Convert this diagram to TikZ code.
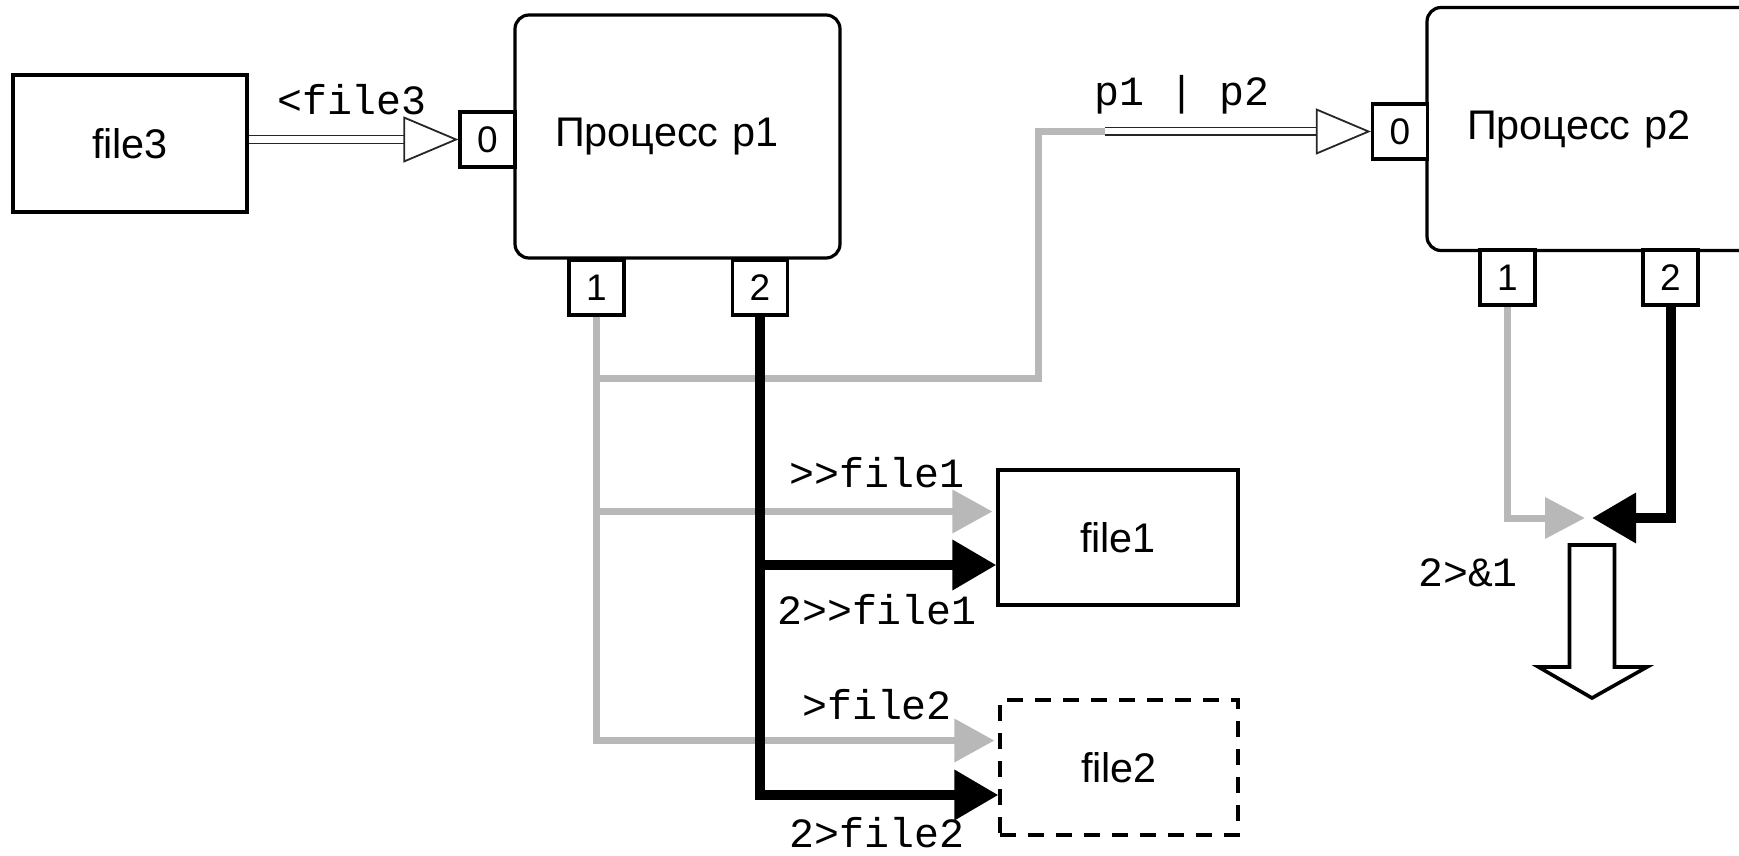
\documentclass[tikz,border=0pt]{standalone}
\usepackage{fontspec}
\setmainfont{Liberation Sans}
\setmonofont{Liberation Mono}
\usetikzlibrary{arrows.meta}

\begin{document}
\begin{tikzpicture}[x=0.5pt, y=-0.5pt,
	proc/.style={draw, line width=1.6pt, rounded corners=7pt, minimum width=162.5pt, minimum height=121.5pt, text width=122.5pt, inner xsep=20pt, align=left, font=\fontsize{20.7pt}{24pt}\selectfont},
	port/.style={draw, line width=1.6pt, fill=white, minimum size=27.5pt, inner sep=0pt, font=\fontsize{18.5pt}{21pt}\selectfont},
	filebox/.style={draw, line width=1.6pt, minimum width=120pt, minimum height=67.5pt, font=\fontsize{20.7pt}{24pt}\selectfont},
	redir/.style={inner sep=0pt, font=\ttfamily\fontsize{20.8pt}{24pt}\selectfont},
	pipe/.style={double, double distance=3pt, line width=0.9pt, draw=black!85, -{Triangle[open, length=27.5pt, width=23pt, line width=0.9pt]}},
	stdline/.style={draw=black!28, line width=3.5pt},
	stdarrow/.style={stdline, shorten >=2pt, -{Triangle[length=20pt, width=21pt]}},
	errarrow/.style={line width=5pt, -{Triangle[length=22pt, width=24pt]}},
	bigarrow/.style={draw, line width=1.8pt, fill=white, line join=miter}]

	\useasboundingbox (0,0) rectangle (1739,856);
	\clip (0,0) rectangle (1739,856);

	% processes and their descriptors
	\node (P1) at (677.5,136.5) [proc] {Процесс p1};
	\node (P2) at (1589.5,129) [proc] {Процесс p2};
	\node (In1) at (487.5,139.5) [port] {0};
	\node (Out1) at (596.5,287.5) [port] {1};
	\node (Err1) at (760,287.5) [port] {2};
	\node (In2) at (1400,131.5) [port] {0};
	\node (Out2) at (1507.5,277.5) [port] {1};
	\node (Err2) at (1670.5,277.5) [port] {2};

	% files
	\node (F3) at (130,143.5) [filebox, line width=2.2pt, minimum width=117pt, minimum height=68.5pt] {file3};
	\node (F1) at (1118,537.5) [filebox] {file1};
	\node (F2) at (1119,767.5) [filebox, dashed, dash pattern=on 8pt off 6pt, minimum width=119pt] {file2};

	\coordinate (Bend) at (1038,378);
	\coordinate (PipeA) at (In2.west -| 1105,0);
	\coordinate (Mrg) at (1592,518);

	% stdout of p1
	\draw[stdline] (Out1.south) |- (Bend) |- (PipeA);
	\draw[stdarrow] (Out1.south) |- ([yshift=13pt]F1.west);
	\draw[stdarrow] (Out1.south) |- ([yshift=13.5pt]F2.west);
	% stderr of p1
	\draw[errarrow] (Err1.south) |- ([yshift=-13.75pt]F1.west);
	\draw[errarrow] (Err1.south) |- ([yshift=-13.75pt]F2.west);

	\draw[pipe] (F3.east |- In1) -- (In1);
	\draw[pipe] (PipeA) -- (In2);

	% 2>&1
	\draw[stdline, shorten >=3.5pt, -{Triangle[length=20pt, width=20pt]}] (Out2.south) |- (Mrg);
	\draw[errarrow] (Err2.south) |- (Mrg);
	\draw[bigarrow] (1569.5,545) -- ++(0,122) -- ++(-31,0) -- (1592,698) -- ++(55,-31) -- ++(-32.5,0) -- ++(0,-122) -- cycle;

	\node (L3) at (352,100) [redir] {<file3};
	\node (Lpipe) at (1182,95) [redir] {p1 | p2};
	\node (Lapp1) at (877,473) [redir] {>{}>file1};
	\node (Lerr1) at (877,610) [redir] {2>{}>file1};
	\node (Lout2) at (877,705) [redir] {>file2};
	\node (Lerr2) at (877,833) [redir] {2>file2};
	\node (Lmrg) at (1468,573) [redir] {2>\&1};

\end{tikzpicture}
\end{document}
